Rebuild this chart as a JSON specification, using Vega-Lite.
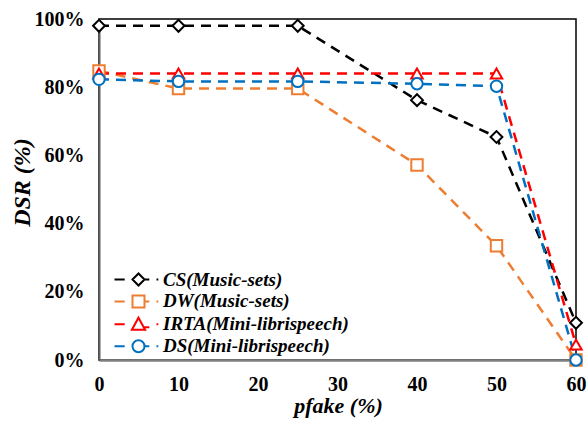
{
  "$schema": "https://vega.github.io/schema/vega-lite/v6.json",
  "autosize": "none",
  "width": 477,
  "height": 341,
  "padding": {"left": 99, "top": 19, "right": 11, "bottom": 63},
  "background": "white",
  "config": {
    "view": {"stroke": "black", "strokeWidth": 1.5},
    "font": "Liberation Serif"
  },
  "data": {
    "values": [
      {"series": "CS(Music-sets)", "x": 0, "y": 98},
      {"series": "CS(Music-sets)", "x": 10, "y": 98},
      {"series": "CS(Music-sets)", "x": 25, "y": 98},
      {"series": "CS(Music-sets)", "x": 40, "y": 76.2},
      {"series": "CS(Music-sets)", "x": 50, "y": 65.4},
      {"series": "CS(Music-sets)", "x": 60, "y": 10.9},
      {"series": "DW(Music-sets)", "x": 0, "y": 84.8},
      {"series": "DW(Music-sets)", "x": 10, "y": 79.6},
      {"series": "DW(Music-sets)", "x": 25, "y": 79.6},
      {"series": "DW(Music-sets)", "x": 40, "y": 57.2},
      {"series": "DW(Music-sets)", "x": 50, "y": 33.5},
      {"series": "DW(Music-sets)", "x": 60, "y": 0},
      {"series": "IRTA(Mini-librispeech)", "x": 0, "y": 84},
      {"series": "IRTA(Mini-librispeech)", "x": 10, "y": 84},
      {"series": "IRTA(Mini-librispeech)", "x": 25, "y": 84},
      {"series": "IRTA(Mini-librispeech)", "x": 40, "y": 84},
      {"series": "IRTA(Mini-librispeech)", "x": 50, "y": 84},
      {"series": "IRTA(Mini-librispeech)", "x": 60, "y": 4.5},
      {"series": "DS(Mini-librispeech)", "x": 0, "y": 82.3},
      {"series": "DS(Mini-librispeech)", "x": 10, "y": 81.7},
      {"series": "DS(Mini-librispeech)", "x": 25, "y": 81.7},
      {"series": "DS(Mini-librispeech)", "x": 40, "y": 81},
      {"series": "DS(Mini-librispeech)", "x": 50, "y": 80.3},
      {"series": "DS(Mini-librispeech)", "x": 60, "y": 0}
    ]
  },
  "encoding": {
    "x": {
      "field": "x", "type": "quantitative",
      "scale": {"domain": [0, 60], "nice": false},
      "axis": {
        "values": [0, 10, 20, 30, 40, 50, 60],
        "title": "pfake (%)",
        "titleFont": "Liberation Serif", "titleFontSize": 22, "titleFontWeight": "bold", "titleFontStyle": "italic", "titleColor": "black",
        "titleX": 239, "titleY": 52, "titleAlign": "center", "titleBaseline": "alphabetic",
        "labelFont": "Liberation Serif", "labelFontSize": 20, "labelFontWeight": "bold", "labelColor": "black",
        "labelPadding": 14, "labelFlush": false, "labelOverlap": false,
        "ticks": false, "grid": false,
        "domainColor": "#808080", "domainWidth": 2.5
      }
    },
    "y": {
      "field": "y", "type": "quantitative",
      "scale": {"domain": [0, 100], "nice": false},
      "axis": {
        "values": [0, 20, 40, 60, 80, 100],
        "labelExpr": "datum.value + '%'",
        "title": "DSR (%)",
        "titleFont": "Liberation Serif", "titleFontSize": 24, "titleFontWeight": "bold", "titleFontStyle": "italic", "titleColor": "black",
        "titleX": -77, "titleY": 163, "titleAlign": "center", "titleBaseline": "middle", "titleAngle": -90,
        "labelFont": "Liberation Serif", "labelFontSize": 20, "labelFontWeight": "bold", "labelColor": "black",
        "labelPadding": 15,
        "ticks": false, "grid": false,
        "domainColor": "#606060", "domainWidth": 2
      }
    }
  },
  "layer": [
    {
      "transform": [{"filter": "datum.series == 'CS(Music-sets)'"}],
      "mark": {"type": "line", "color": "#000000", "strokeWidth": 2.5, "strokeDash": [10, 7]}
    },
    {
      "transform": [{"filter": "datum.series == 'DW(Music-sets)'"}],
      "mark": {"type": "line", "color": "#ED7D31", "strokeWidth": 2.5, "strokeDash": [10, 7]}
    },
    {
      "transform": [{"filter": "datum.series == 'IRTA(Mini-librispeech)'"}],
      "mark": {"type": "line", "color": "#FF0000", "strokeWidth": 2.5, "strokeDash": [10, 7]}
    },
    {
      "transform": [{"filter": "datum.series == 'DS(Mini-librispeech)'"}],
      "mark": {"type": "line", "color": "#0070C0", "strokeWidth": 2.5, "strokeDash": [10, 7]}
    },
    {
      "transform": [{"filter": "datum.series == 'CS(Music-sets)'"}],
      "mark": {"type": "point", "shape": "diamond", "filled": false, "stroke": "#000000", "fill": "white", "fillOpacity": 1, "opacity": 1, "strokeWidth": 2, "size": 140}
    },
    {
      "transform": [{"filter": "datum.series == 'DW(Music-sets)'"}],
      "mark": {"type": "point", "shape": "square", "filled": false, "stroke": "#ED7D31", "fill": "white", "fillOpacity": 1, "opacity": 1, "strokeWidth": 2, "size": 130}
    },
    {
      "transform": [{"filter": "datum.series == 'IRTA(Mini-librispeech)'"}],
      "mark": {"type": "point", "shape": "triangle-up", "filled": false, "stroke": "#FF0000", "fill": "white", "fillOpacity": 1, "opacity": 1, "strokeWidth": 2, "size": 130}
    },
    {
      "transform": [{"filter": "datum.series == 'DS(Mini-librispeech)'"}],
      "mark": {"type": "point", "shape": "circle", "filled": false, "stroke": "#0070C0", "fill": "white", "fillOpacity": 1, "opacity": 1, "strokeWidth": 2, "size": 130}
    },
    {
      "transform": [{"filter": "false"}],
      "mark": {"type": "point", "filled": false, "opacity": 1, "strokeWidth": 2},
      "encoding": {
        "color": {
          "field": "series", "type": "nominal",
          "scale": {
            "domain": ["CS(Music-sets)", "DW(Music-sets)", "IRTA(Mini-librispeech)", "DS(Mini-librispeech)"],
            "range": ["#000000", "#ED7D31", "#FF0000", "#0070C0"]
          },
          "legend": {
            "title": null,
            "orient": "none",
            "legendX": 30,
            "legendY": 251,
            "padding": 0,
            "symbolSize": 144,
            "symbolStrokeWidth": 2,
            "symbolFillColor": "white",
            "labelFont": "Liberation Serif", "labelFontSize": 19, "labelFontWeight": "bold", "labelFontStyle": "italic", "labelColor": "black",
            "labelOffset": 15,
            "rowPadding": 0.9,
            "labelLimit": 400
          }
        },
        "shape": {
          "field": "series", "type": "nominal",
          "scale": {
            "domain": ["CS(Music-sets)", "DW(Music-sets)", "IRTA(Mini-librispeech)", "DS(Mini-librispeech)"],
            "range": [
              "M-4,0H-2.3M-1,0L0,-1L1,0L0,1Z M1,0H1.8 M3,0H3.3",
              "M-4,0H-2.3M-1,-1H1V1H-1Z M1,0H1.8 M3,0H3.3",
              "M-4,0H-2.3M0,-1.1L1.1,0.9H-1.1Z M1,0.5H1.8 M3,0H3.3",
              "M-4,0H-2.3M1,0A1,1,0,1,1,-1,0A1,1,0,1,1,1,0Z M1,0H1.8 M3,0H3.3"
            ]
          },
          "legend": {
            "title": null,
            "orient": "none",
            "legendX": 30,
            "legendY": 251,
            "padding": 0,
            "symbolSize": 144,
            "symbolStrokeWidth": 2,
            "symbolFillColor": "white",
            "labelFont": "Liberation Serif", "labelFontSize": 19, "labelFontWeight": "bold", "labelFontStyle": "italic", "labelColor": "black",
            "labelOffset": 15,
            "rowPadding": 0.9,
            "labelLimit": 400
          }
        }
      }
    }
  ]
}
